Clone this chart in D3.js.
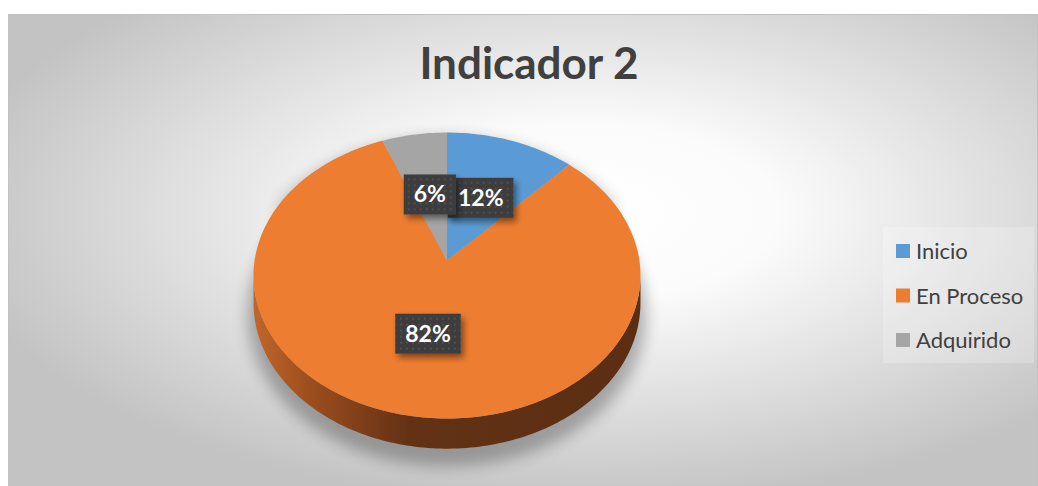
<!DOCTYPE html>
<html>
<head>
<meta charset="utf-8">
<script src="https://cdn.jsdelivr.net/npm/d3@7"></script>
<style>
  html, body { margin: 0; padding: 0; background: #fff; }
  svg { display: block; }
</style>
</head>
<body>
<div id="chart"></div>
<script>
// Chart data
var categories = ["Inicio", "En Proceso", "Adquirido"];
var values = [12, 82, 6];
var labels = ["12%", "82%", "6%"];
var colors = ["#5B9BD5", "#ED7D31", "#A5A5A5"];
var title = "Indicador 2";

var width = 1038, height = 486;

var svg = d3.select("#chart").append("svg")
    .attr("width", width)
    .attr("height", height);

var defs = svg.append("defs");

// Background gradient (white in the middle, grey at the edges)
var bg = defs.append("radialGradient").attr("id", "bg")
    .attr("cx", "0.56").attr("cy", "0.42").attr("r", "0.62");
bg.append("stop").attr("offset", "0").attr("stop-color", "#ffffff");
bg.append("stop").attr("offset", "0.3").attr("stop-color", "#fbfbfb");
bg.append("stop").attr("offset", "1").attr("stop-color", "#c3c3c3");

// Side of the pie
var side = defs.append("linearGradient").attr("id", "side")
    .attr("gradientUnits", "userSpaceOnUse")
    .attr("x1", 253).attr("x2", 640).attr("y1", 0).attr("y2", 0);
side.append("stop").attr("offset", "0").attr("stop-color", "#c2662b");
side.append("stop").attr("offset", "0.15").attr("stop-color", "#9c4d1d");
side.append("stop").attr("offset", "0.4").attr("stop-color", "#633215");
side.append("stop").attr("offset", "1").attr("stop-color", "#5b2e12");

// Soft shadow
var blur = defs.append("filter").attr("id", "blur")
    .attr("x", "-20%").attr("y", "-20%").attr("width", "140%").attr("height", "140%");
blur.append("feGaussianBlur").attr("stdDeviation", 7);

var boxShadow = defs.append("filter").attr("id", "boxShadow")
    .attr("x", "-30%").attr("y", "-30%").attr("width", "160%").attr("height", "160%");
boxShadow.append("feDropShadow").attr("dx", 3).attr("dy", 4)
    .attr("stdDeviation", 3).attr("flood-color", "#000").attr("flood-opacity", 0.45);

// Dotted label fill
var pat = defs.append("pattern").attr("id", "dots")
    .attr("patternUnits", "userSpaceOnUse").attr("width", 6).attr("height", 6);
pat.append("rect").attr("width", 6).attr("height", 6).attr("fill", "#3e3e3e");
pat.append("rect").attr("x", 2).attr("y", 2).attr("width", 1.6).attr("height", 1.6).attr("fill", "#575757");

// Chart area
svg.append("rect")
    .attr("x", 8.5).attr("y", 14.5)
    .attr("width", width - 9).attr("height", height - 14)
    .attr("fill", "url(#bg)")
    .attr("stroke", "#c2c2c2");

// Title
svg.append("text")
    .attr("x", 529).attr("y", 79)
    .attr("text-anchor", "middle")
    .attr("font-family", "Lato, 'Open Sans', sans-serif")
    .attr("font-weight", "bold")
    .attr("font-size", "44px")
    .attr("fill", "#404040")
    .text(title);

// Perspective projection of a point on the pie disc
var cx = 447, cy = 260.5;
var A = 192.4, B = 141.4, k = 0.105, depth = 27;

function proj(angle, r, down) {
    var d = 1 + k * r * Math.cos(angle);
    var x = cx + A * r * Math.sin(angle) / d;
    var y = cy - B * r * Math.cos(angle) / d;
    if (down) y += depth / d;
    return [x, y];
}

function rim(a0, a1, down) {
    var n = Math.max(2, Math.ceil(Math.abs(a1 - a0) / 0.02));
    return d3.range(n + 1).map(function(i) {
        return proj(a0 + (a1 - a0) * i / n, 1, down);
    });
}

var line = d3.line();
var color = d3.scaleOrdinal().domain(categories).range(colors);

var pie = d3.pie().sort(null).value(function(d) { return d; });
var arcs = pie(values);

// Visible part of the side wall (between the two widest points)
var sideStart = Math.acos(-k);
var sideEnd = 2 * Math.PI - sideStart;

// Shadow under the pie
svg.append("path")
    .attr("d", line(rim(sideStart - 0.6, sideEnd + 0.6, true).concat(rim(sideEnd + 0.6, sideStart - 0.6 + 2 * Math.PI, false))) + "Z")
    .attr("transform", "translate(" + cx + "," + (cy + 10) + ") scale(1.03,1.04) translate(" + (-cx) + "," + (-cy) + ")")
    .attr("fill", "#000")
    .attr("opacity", 0.28)
    .attr("filter", "url(#blur)");

// Side walls
arcs.forEach(function(a) {
    var s = Math.max(a.startAngle, sideStart);
    var e = Math.min(a.endAngle, sideEnd);
    if (e <= s) return;
    var pts = rim(s, e, false).concat(rim(e, s, true));
    svg.append("path")
        .attr("d", line(pts) + "Z")
        .attr("fill", "url(#side)");
});

// Top faces
svg.selectAll("path.slice")
    .data(arcs)
    .enter()
    .append("path")
    .attr("class", "slice")
    .attr("d", function(d) {
        return line([[cx, cy]].concat(rim(d.startAngle, d.endAngle, false))) + "Z";
    })
    .attr("fill", function(d, i) { return color(categories[i]); });

// Data labels
var lab = svg.selectAll("g.lab")
    .data(arcs)
    .enter()
    .append("g")
    .attr("class", "lab")
    .attr("transform", function(d) {
        var p = proj((d.startAngle + d.endAngle) / 2, 0.5, false);
        return "translate(" + p[0] + "," + p[1] + ")";
    });

lab.append("rect").attr("class", "box");
lab.append("text")
    .attr("text-anchor", "middle")
    .attr("y", 8)
    .attr("font-family", "Lato, 'Open Sans', sans-serif")
    .attr("font-weight", "bold")
    .attr("font-size", "23px")
    .attr("fill", "#ffffff")
    .text(function(d, i) { return labels[i]; });

lab.each(function() {
    var g = d3.select(this);
    var w = g.select("text").node().getComputedTextLength() + 20;
    g.select("rect")
        .attr("x", -w / 2).attr("y", -20)
        .attr("width", w).attr("height", 40)
        .attr("fill", "url(#dots)")
        .attr("filter", "url(#boxShadow)");
});

// Legend
var legend = svg.append("g");
legend.append("rect")
    .attr("x", 883).attr("y", 227)
    .attr("width", 151).attr("height", 136)
    .attr("fill", "#ffffff").attr("opacity", 0.22);

var ly = d3.scalePoint().domain(categories).range([251, 340]);

var item = legend.selectAll("g.item")
    .data(categories)
    .enter()
    .append("g")
    .attr("class", "item")
    .attr("transform", function(d) { return "translate(896," + ly(d) + ")"; });

item.append("rect")
    .attr("x", 0).attr("y", -7)
    .attr("width", 14).attr("height", 14)
    .attr("fill", function(d) { return color(d); });

item.append("text")
    .attr("x", 20).attr("y", 8)
    .attr("font-family", "Lato, 'Open Sans', sans-serif")
    .attr("font-size", "22px")
    .attr("fill", "#404040")
    .text(function(d) { return d; });
</script>
</body>
</html>
